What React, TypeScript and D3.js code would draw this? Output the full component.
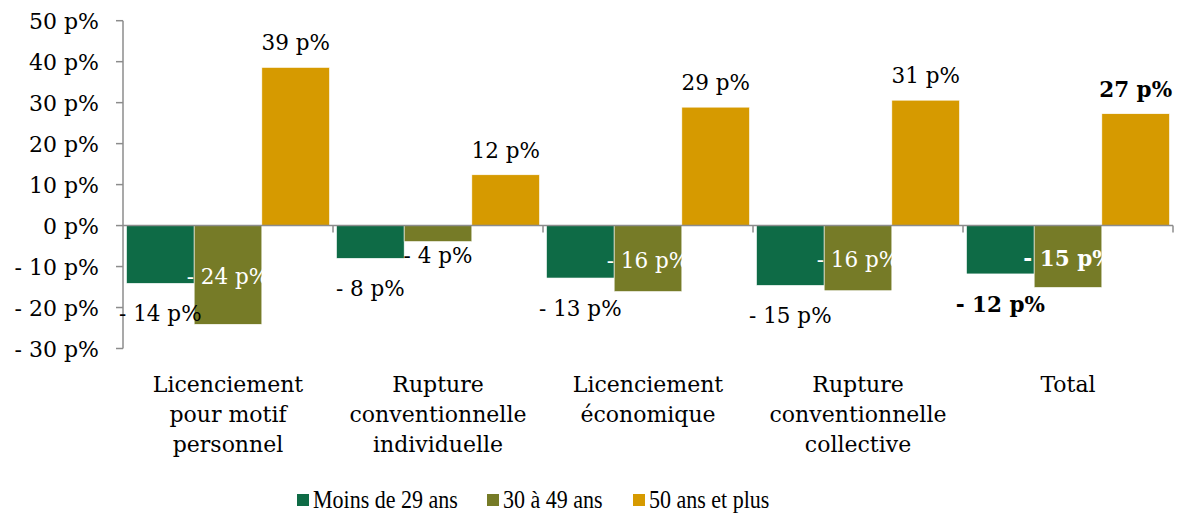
import React from "react";
import * as d3 from "d3";

const categories: string[][] = [
  ["Licenciement", "pour motif", "personnel"],
  ["Rupture", "conventionnelle", "individuelle"],
  ["Licenciement", "économique"],
  ["Rupture", "conventionnelle", "collective"],
  ["Total"],
];
const seriesNames = ["Moins de 29 ans", "30 à 49 ans", "50 ans et plus"];
const moins29 = [-14.1, -8.0, -12.8, -14.6, -11.8];
const de30a49 = [-24.1, -3.9, -16.1, -15.9, -15.1];
const plus50 = [38.6, 12.4, 28.9, 30.6, 27.3];
const yTicks = [-30, -20, -10, 0, 10, 20, 30, 40, 50];
const colors = ["#0e6b46", "#767b27", "#d69a00"];

const W = 1186;
const H = 513;
const FONT = "'DejaVu Serif', serif";

const fmt = (v: number) => {
  const r = Math.round(v);
  return r < 0 ? `- ${Math.abs(r)} p%` : `${r} p%`;
};

export default function App() {
  const y = d3.scaleLinear().domain([-30, 50]).range([348.5, 20.7]);
  const x = d3
    .scaleBand<number>()
    .domain(categories.map((_, i) => i))
    .range([123, 1173])
    .padding(0);
  const inner = d3
    .scaleBand<number>()
    .domain([0, 1, 2])
    .range([3.5, x.bandwidth() - 3.5])
    .padding(0);
  const series = [moins29, de30a49, plus50];
  const axisColor = "#8c8c8c";
  const legendScale = 0.88;

  return (
    <svg
      width={W}
      height={H}
      style={{ position: "absolute", left: 0, top: 0, background: "#fff" }}
      fontFamily={FONT}
    >
      {series.map((vals, s) =>
        vals.map((v, i) => {
          const bx = (x(i) as number) + (inner(s) as number);
          const y0 = y(0);
          const y1 = y(v);
          return (
            <rect
              key={`b${s}-${i}`}
              x={bx}
              y={Math.min(y0, y1)}
              width={inner.bandwidth()}
              height={Math.abs(y1 - y0)}
              fill={colors[s]}
              stroke="#ffffff"
              strokeWidth={0.6}
            />
          );
        })
      )}

      <line x1={123} x2={123} y1={y(50)} y2={y(-30)} stroke={axisColor} strokeWidth={1.5} />
      {yTicks.map((t) => (
        <g key={`t${t}`}>
          <line x1={116} x2={123} y1={y(t)} y2={y(t)} stroke={axisColor} strokeWidth={1.5} />
          <text x={99} y={y(t) + 8} textAnchor="end" fontSize={22} fill="#000">
            {fmt(t)}
          </text>
        </g>
      ))}

      <line x1={123} x2={1173} y1={y(0)} y2={y(0)} stroke={axisColor} strokeWidth={1.5} />
      {categories.map((_, i) => (
        <line
          key={`xt${i}`}
          x1={(x(i) as number) + x.bandwidth()}
          x2={(x(i) as number) + x.bandwidth()}
          y1={y(0)}
          y2={y(0) + 7}
          stroke={axisColor}
          strokeWidth={1.5}
        />
      ))}

      {categories.map((lines, i) => (
        <text
          key={`c${i}`}
          x={(x(i) as number) + x.bandwidth() / 2}
          textAnchor="middle"
          fontSize={22}
          fill="#000"
        >
          {lines.map((l, k) => (
            <tspan key={k} x={(x(i) as number) + x.bandwidth() / 2} y={392 + k * 30}>
              {l}
            </tspan>
          ))}
        </text>
      ))}

      {series.map((vals, s) =>
        vals.map((v, i) => {
          const cx = (x(i) as number) + (inner(s) as number) + inner.bandwidth() / 2;
          const bold = i === categories.length - 1;
          let ty: number;
          let fill = "#000";
          if (s === 2) {
            ty = y(v) - 17;
          } else if (s === 0) {
            ty = y(v) + 38;
          } else {
            const len = Math.abs(y(v) - y(0));
            if (len > 40) {
              ty = y(v / 2) + 9;
              fill = "#ffffff";
            } else {
              ty = y(v) + 21;
            }
          }
          return (
            <text
              key={`l${s}-${i}`}
              x={cx}
              y={ty}
              textAnchor="middle"
              fontSize={21.5}
              fontWeight={bold ? "bold" : "normal"}
              fill={fill}
            >
              {fmt(v)}
            </text>
          );
        })
      )}

      {seriesNames.map((n, s) => {
        const lx = [297, 487, 633][s];
        return (
          <g key={`lg${s}`}>
            <rect x={lx} y={494} width={12} height={12} fill={colors[s]} />
            <g transform={`translate(${lx + 16},508) scale(${legendScale},1)`}>
              <text x={0} y={0} fontSize={25} fill="#000" fontFamily="'Liberation Serif', serif">
                {n}
              </text>
            </g>
          </g>
        );
      })}
    </svg>
  );
}
